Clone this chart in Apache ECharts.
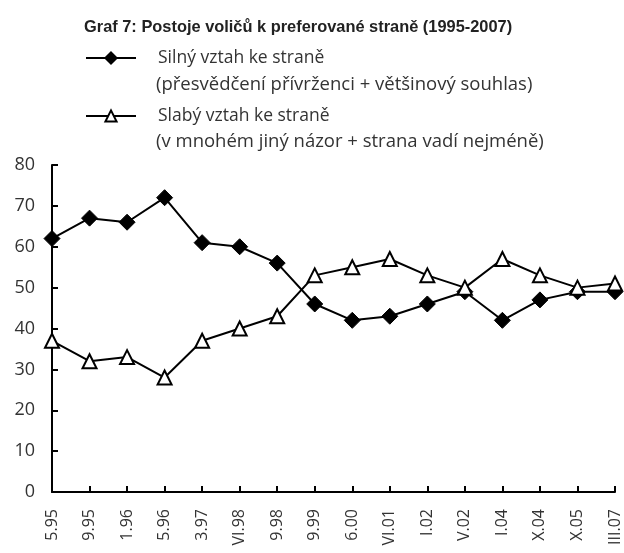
<!DOCTYPE html>
<html>
<head>
<meta charset="utf-8">
<script src="https://cdn.jsdelivr.net/npm/echarts@6/dist/echarts.min.js"></script>
<style>
  html, body { margin: 0; padding: 0; background: #fff; }
  #chart { width: 624px; height: 553px; }
</style>
</head>
<body>
<div id="chart"></div>
<script>
const categories = ['5.95', '9.95', '1.96', '5.96', '3.97', 'VI.98', '9.98', '9.99', '6.00', 'VI.01', 'I.02', 'V.02', 'I.04', 'X.04', 'X.05', 'III.07'];
const silny = [62, 67, 66, 72, 61, 60, 56, 46, 42, 43, 46, 49, 42, 47, 49, 49];
const slaby = [37, 32, 33, 28, 37, 40, 43, 53, 55, 57, 53, 50, 57, 53, 50, 51];
const names = ['Silný vztah ke straně', 'Slabý vztah ke straně'];
const subNames = ['(přesvědčení přívrženci + většinový souhlas)', '(v mnohém jiný názor + strana vadí nejméně)'];

const chart = echarts.init(document.getElementById('chart'));
const txt = '#333';
const legendText = {
    color: txt,
    fontFamily: 'Open Sans',
    fontSize: 17.5,
    padding: [0, 0, 0, 17]
};
chart.setOption({
    animation: false,
    title: {
        text: 'Graf 7: Postoje voličů k preferované straně (1995-2007)',
        left: 79,
        top: 14,
        textStyle: {
            fontFamily: 'Liberation Sans',
            fontWeight: 'bold',
            fontSize: 16.4,
            color: '#222'
        }
    },
    legend: [
        {
            data: [names[0]],
            left: 80,
            top: 44,
            itemWidth: 50,
            itemHeight: 14,
            textStyle: legendText
        },
        {
            data: [names[1]],
            left: 80,
            top: 102,
            itemWidth: 50,
            itemHeight: 14,
            textStyle: legendText
        }
    ],
    graphic: [
        {
            type: 'text', left: 156, top: 75,
            style: { text: subNames[0], fill: txt, font: '18.5px "Open Sans"' }
        },
        {
            type: 'text', left: 156, top: 132,
            style: { text: subNames[1], fill: txt, font: '18.5px "Open Sans"' }
        }
    ],
    grid: {
        left: 52,
        right: 9,
        top: 165,
        bottom: 61,
        containLabel: false
    },
    xAxis: {
        type: 'category',
        data: categories,
        boundaryGap: false,
        axisLine: { lineStyle: { color: '#000', width: 2 } },
        axisTick: { inside: true, length: 6, alignWithLabel: true, lineStyle: { color: '#000', width: 2 } },
        axisLabel: {
            rotate: 90,
            margin: 17,
            interval: 0,
            color: txt,
            fontFamily: 'Open Sans',
            fontSize: 16
        }
    },
    yAxis: {
        type: 'value',
        min: 0,
        max: 80,
        interval: 10,
        splitLine: { show: false },
        axisLine: { show: true, lineStyle: { color: '#000', width: 2 } },
        axisTick: { show: true, inside: true, length: 6, lineStyle: { color: '#000', width: 2 } },
        axisLabel: {
            margin: 17,
            color: txt,
            fontFamily: 'Open Sans',
            fontSize: 18
        }
    },
    series: [
        {
            name: names[0],
            type: 'line',
            data: silny,
            symbol: 'diamond',
            symbolSize: 16,
            lineStyle: { color: '#000', width: 2 },
            itemStyle: { color: '#000', borderColor: '#000', borderWidth: 1 }
        },
        {
            name: names[1],
            type: 'line',
            data: slaby,
            symbol: 'triangle',
            symbolSize: 14,
            lineStyle: { color: '#000', width: 2 },
            itemStyle: { color: '#fff', borderColor: '#000', borderWidth: 2 }
        }
    ]
});
</script>
</body>
</html>
